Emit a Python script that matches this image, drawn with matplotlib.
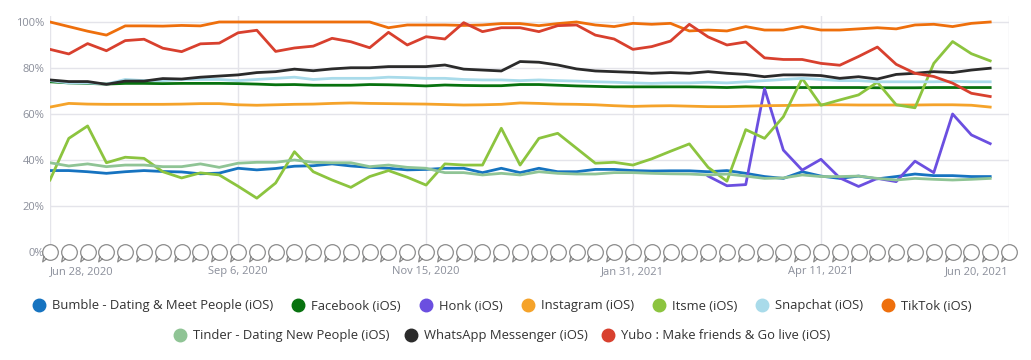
import numpy as np
import pandas as pd
import matplotlib.pyplot as plt
from matplotlib.lines import Line2D
from matplotlib.path import Path

plt.rcParams['font.family'] = ['Open Sans', 'DejaVu Sans']

# ---------------- Data (weekly, share in %) ----------------
dates = pd.date_range('2020-06-28', periods=51, freq='7D')
nan = np.nan

bumble = [35.4, 35.4, 34.9, 34.2, 34.9, 35.4, 35.0, 34.8, 34.0, 34.3,
          36.4, 35.7, 36.3, 37.3, 37.5, 38.3, 37.4, 36.8, 36.4, 35.7,
          35.9, 36.4, 36.4, 34.5, 36.4, 34.5, 36.4, 34.9, 34.9, 35.9,
          35.9, 35.4, 35.2, 35.3, 35.3, 34.9, 35.4, 34.2, 32.8, 32.0,
          34.9, 33.0, 32.0, 33.0, 31.8, 32.8, 33.9, 33.2, 33.2, 32.8, 32.8]
facebook = [74.0, 73.5, 73.3, 73.0, 73.3, 73.3, 73.2, 73.3, 73.3, 73.3,
            73.2, 73.0, 72.7, 72.8, 72.5, 72.5, 72.5, 72.8, 72.7, 72.5,
            72.2, 72.6, 72.4, 72.3, 72.3, 72.8, 72.8, 72.5, 72.2, 72.0,
            71.8, 71.8, 71.8, 71.8, 71.8, 71.7, 71.5, 71.8, 71.5, 71.5,
            71.5, 71.5, 71.5, 71.5, 71.4, 71.4, 71.4, 71.5, 71.5, 71.5, 71.5]
honk = [nan] * 35 + [33.0, 28.8, 29.3, 71.0, 44.3, 35.6, 40.3, 32.2, 28.5, 32.0,
                     30.6, 39.5, 34.5, 60.0, 50.9, 47.1]
instagram = [63.0, 64.6, 64.3, 64.2, 64.2, 64.2, 64.2, 64.3, 64.5, 64.5,
             64.0, 63.8, 64.0, 64.2, 64.3, 64.6, 64.8, 64.6, 64.5, 64.4,
             64.3, 64.1, 63.9, 64.0, 64.2, 64.8, 64.6, 64.3, 64.2, 64.0,
             63.6, 63.3, 63.5, 63.6, 63.4, 63.2, 63.2, 63.4, 63.6, 63.7,
             63.8, 64.0, 64.0, 63.9, 63.9, 63.9, 63.9, 64.0, 64.0, 63.8, 63.0]
itsme = [31.3, 49.4, 54.8, 38.8, 41.2, 40.7, 34.9, 32.2, 34.4, 33.5,
         28.6, 23.4, 30.0, 43.6, 34.9, 31.3, 28.1, 32.8, 35.4, 32.5,
         29.1, 38.3, 37.8, 37.8, 53.8, 37.8, 49.4, 51.6, 45.1, 38.6,
         39.0, 37.8, 40.5, 43.8, 47.0, 36.8, 30.8, 53.2, 49.4, 58.8,
         75.5, 63.8, 66.1, 68.3, 73.8, 64.0, 62.7, 82.0, 91.5, 86.2, 83.1]
snapchat = [74.5, 73.5, 73.5, 73.0, 75.0, 74.5, 74.5, 75.0, 75.0, 75.0,
            74.5, 75.0, 75.5, 76.0, 75.0, 75.5, 75.5, 75.5, 76.0, 75.8,
            75.5, 75.5, 75.0, 74.8, 74.8, 74.5, 74.8, 74.5, 74.3, 74.0,
            73.8, 73.5, 73.3, 73.5, 73.5, 73.8, 73.5, 74.0, 74.5, 75.0,
            75.5, 75.0, 74.5, 74.5, 74.0, 74.0, 74.0, 74.0, 74.2, 74.0, 74.0]
tiktok = [100, 98.0, 96.0, 94.3, 98.3, 98.3, 98.2, 98.5, 98.3, 100,
          100, 100, 100, 100, 100, 100, 100, 100, 97.5, 98.7,
          98.7, 98.7, 98.5, 98.7, 99.3, 99.3, 98.4, 99.3, 100, 98.7,
          98.0, 99.4, 99.0, 99.4, 96.1, 96.5, 96.1, 98.0, 96.5, 96.5,
          98.0, 96.5, 96.5, 97.0, 97.5, 97.0, 98.7, 99.0, 98.0, 99.4, 100]
tinder = [38.8, 37.4, 38.3, 37.1, 37.8, 37.8, 37.1, 37.1, 38.3, 36.8,
          38.6, 39.0, 39.0, 40.0, 39.0, 38.8, 38.8, 37.1, 37.8, 36.8,
          36.4, 34.5, 34.5, 33.5, 34.2, 33.5, 34.9, 34.2, 33.9, 33.9,
          34.5, 34.5, 34.2, 34.0, 33.9, 33.5, 33.9, 33.0, 32.0, 32.2,
          33.5, 32.8, 32.8, 33.0, 32.0, 31.3, 32.0, 31.6, 31.3, 31.6, 32.0]
whatsapp = [74.8, 74.1, 74.1, 72.9, 74.3, 74.3, 75.4, 75.2, 76.0, 76.5,
            77.0, 78.0, 78.4, 79.5, 78.8, 79.6, 80.1, 80.1, 80.6, 80.6,
            80.6, 81.3, 79.5, 79.1, 78.7, 82.8, 82.5, 81.3, 79.6, 78.7,
            78.4, 78.1, 77.7, 78.0, 77.7, 78.4, 77.7, 77.2, 76.2, 77.0,
            77.0, 76.7, 75.5, 76.2, 75.2, 77.2, 77.7, 78.4, 78.0, 79.1, 79.9]
yubo = [88.1, 86.1, 90.6, 87.5, 91.9, 92.5, 88.6, 87.1, 90.5, 90.8,
        95.3, 96.4, 87.2, 88.7, 89.5, 92.9, 91.4, 88.8, 95.5, 90.0,
        93.6, 92.6, 99.7, 95.8, 97.5, 97.5, 95.8, 98.4, 98.7, 94.3,
        92.6, 88.1, 89.3, 91.7, 99.0, 93.5, 90.0, 91.3, 84.4, 83.7,
        83.7, 82.0, 81.2, 85.0, 89.1, 81.6, 77.7, 76.3, 73.4, 69.0, 67.6]

names = ['Bumble - Dating & Meet People (iOS)', 'Facebook (iOS)', 'Honk (iOS)',
         'Instagram (iOS)', 'Itsme (iOS)', 'Snapchat (iOS)', 'TikTok (iOS)',
         'Tinder - Dating New People (iOS)', 'WhatsApp Messenger (iOS)',
         'Yubo : Make friends & Go live (iOS)']
series = [bumble, facebook, honk, instagram, itsme, snapchat, tiktok,
          tinder, whatsapp, yubo]
colors = ['#1673c0', '#08720f', '#6b4fe0', '#f5a32a', '#8cc43f', '#a9dbea',
          '#ee6f0c', '#8fc495', '#2b2b2b', '#d8402e']

tick_dates = pd.to_datetime(['2020-06-28', '2020-09-06', '2020-11-15',
                             '2021-01-31', '2021-04-11', '2021-06-20'])
tick_labels = ['Jun 28, 2020', 'Sep 6, 2020', 'Nov 15, 2020',
               'Jan 31, 2021', 'Apr 11, 2021', 'Jun 20, 2021']

# ---------------- Plot ----------------
fig = plt.figure(figsize=(10.31, 3.6), dpi=100)
ax = fig.add_axes([50 / 1031, 108 / 360, 959 / 1031, 236 / 360])

for vals, c in zip(series, colors):
    ax.plot(dates, vals, color=c, lw=2.0, solid_joinstyle='round', zorder=3)

ax.set_ylim(0, 102.6)
ax.set_xlim(tick_dates[0], tick_dates[-1])
ax.set_yticks([0, 20, 40, 60, 80, 100])
ax.set_yticklabels(['0%', '20%', '40%', '60%', '80%', '100%'])
ax.set_xticks(tick_dates)
ax.set_xticklabels(tick_labels)
xl = ax.get_xticklabels()
xl[0].set_ha('left')
xl[-1].set_ha('right')

ax.grid(True, color='#e4e4ea', lw=1.0, zorder=0)
for s in ax.spines.values():
    s.set_visible(False)
ax.tick_params(length=0, colors='#8a8e9a', labelsize=8.0)
ax.tick_params(axis='x', pad=10)
ax.tick_params(axis='y', pad=4)

# little speech-bubble icons along the baseline
circ = Path.unit_circle()
tail = Path([(-0.5, -0.8), (-1.0, -1.2), (-0.85, -0.45)],
            [Path.MOVETO, Path.LINETO, Path.LINETO])
bubble = Path.make_compound_path(circ, tail)
icon_x = pd.date_range('2020-06-28', '2021-06-20', freq='7D')
ax.plot(icon_x, np.zeros(len(icon_x)), ls='none', marker=bubble, ms=13.5,
        mfc='white', mec='#8a8a8a', mew=0.9, clip_on=False, zorder=5)

# ---------------- Legend ----------------
handles = [Line2D([], [], ls='none', marker='o', ms=9, color=c) for c in colors]
leg_kw = dict(frameon=False, fontsize=9.4, handlelength=1.0, handletextpad=0.5,
              labelcolor='#333333')
fig.legend(handles[:7], names[:7], loc='center', ncol=7, columnspacing=1.4,
           bbox_to_anchor=(0.487, 0.15), **leg_kw)
fig.legend(handles[7:], names[7:], loc='center', ncol=3, columnspacing=1.1,
           bbox_to_anchor=(0.487, 0.067), **leg_kw)

fig.savefig('out.png', dpi=100)
